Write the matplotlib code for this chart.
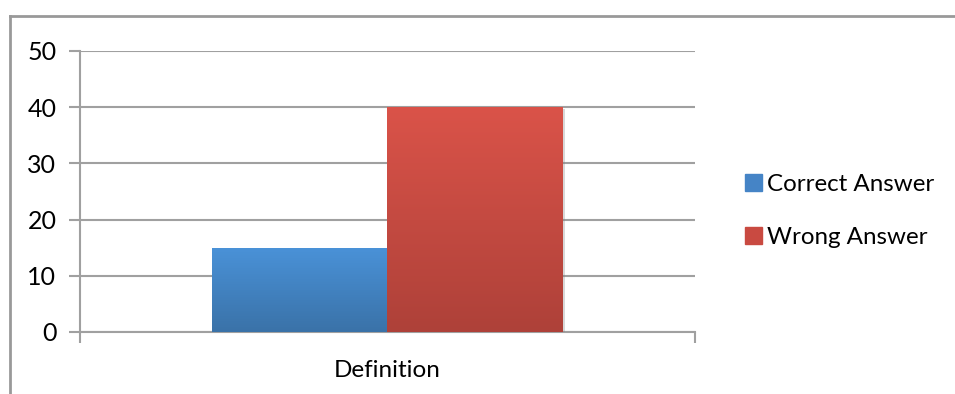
import numpy as np
import matplotlib.pyplot as plt
from matplotlib.colors import LinearSegmentedColormap
from matplotlib.patches import Rectangle
import matplotlib.patheffects as pe

plt.rcParams['font.family'] = ['Lato', 'DejaVu Sans']

# dados
categories = ["Definition"]
series = ["Correct Answer", "Wrong Answer"]
correct = [15]
wrong = [40]
yticks = [0, 10, 20, 30, 40, 50]

# cores (topo, base) do degradê de cada série
blue = ("#4A92D8", "#3A72A8")
red = ("#DA5349", "#AE4139")

fig = plt.figure(figsize=(9.55, 3.94), dpi=100)
ax = fig.add_axes([0.0838, 0.1574, 0.6439, 0.7132])

x = np.arange(len(categories))
w = 0.286
b1 = ax.bar(x - w / 2, correct, w, color=blue[0], label=series[0], zorder=3)
b2 = ax.bar(x + w / 2, wrong, w, color=red[0], label=series[1], zorder=3)

# preenchimento em degradê, recortado pelo retângulo de cada barra
grad = np.linspace(0, 1, 256).reshape(-1, 1)
for bars, cols in [(b1, blue), (b2, red)]:
    cmap = LinearSegmentedColormap.from_list("g", [cols[1], cols[0]])
    for bar in bars:
        bar.set_path_effects([pe.SimplePatchShadow(offset=(1.5, -1.5), shadow_rgbFace="#7F7F7F", alpha=0.3), pe.Normal()])
        bx, by = bar.get_x(), bar.get_y()
        bw, bh = bar.get_width(), bar.get_height()
        im = ax.imshow(grad, extent=[bx, bx + bw, by, by + bh], origin="lower",
                       cmap=cmap, aspect="auto", zorder=4)
        im.set_clip_path(bar)

ax.set_xlim(-0.5, 0.5)
ax.set_ylim(0, 50)
ax.set_yticks(yticks)
ax.set_xticks([0])
ax.set_xticklabels(categories)
ax.set_xticks([-0.5, 0.5], minor=True)

grid_c = "#A0A0A0"
ax.yaxis.grid(True, color=grid_c, linewidth=1.5, zorder=0)
for s in ["top", "right"]:
    ax.spines[s].set_visible(False)
ax.spines["left"].set_color(grid_c)
ax.spines["left"].set_linewidth(1.5)
ax.spines["bottom"].set_color(grid_c)
ax.spines["bottom"].set_linewidth(1.5)
ax.tick_params(axis="y", length=8, width=1.5, color=grid_c, pad=9, labelsize=18)
ax.tick_params(axis="x", which="major", length=0, pad=20, labelsize=17.5)
ax.tick_params(axis="x", which="minor", length=8, width=1.5, color=grid_c)

# legenda
handles = [Rectangle((0, 0), 1, 1, color="#4584C6"), Rectangle((0, 0), 1, 1, color="#C94A41")]
fig.legend(handles, series, loc="center left", bbox_to_anchor=(0.78, 0.4645),
           frameon=False, fontsize=17.4, handlelength=0.7, handleheight=0.7,
           handletextpad=0.2, labelspacing=1.35, borderaxespad=0, borderpad=0)

# moldura do gráfico (esquerda e topo)
fig.add_artist(plt.Line2D([0.0105, 0.0105], [0, 0.96], color="#999999", lw=2, transform=fig.transFigure))
fig.add_artist(plt.Line2D([0.0105, 0.9985], [0.96, 0.96], color="#999999", lw=2, transform=fig.transFigure))

fig.savefig("out.png", dpi=100)
